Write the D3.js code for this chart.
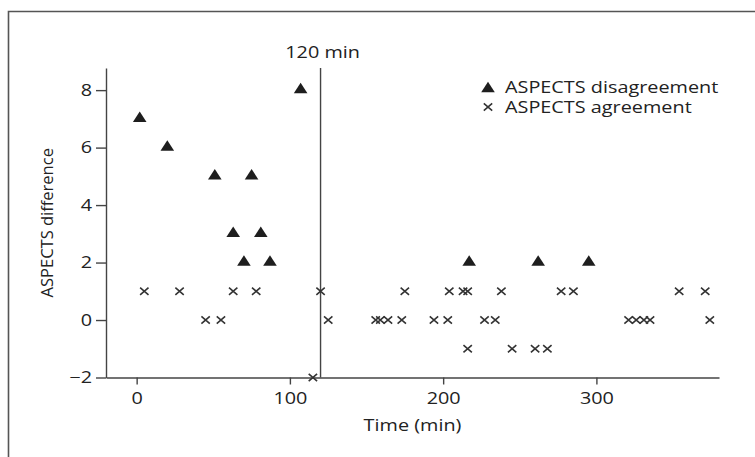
<!DOCTYPE html>
<html>
<head>
<meta charset="utf-8">
<script src="https://cdn.jsdelivr.net/npm/d3@7"></script>
<style>
  html, body { margin: 0; padding: 0; background: #fff; }
  svg { display: block; }
  text { font-family: "Open Sans", "Noto Sans", sans-serif; fill: #222; }
</style>
</head>
<body>
<svg id="chart" width="755" height="457"></svg>
<script>
// ASPECTS disagreement (time in minutes, ASPECTS difference)
const disagreeTime = [2, 20, 51, 75, 63, 81, 70, 87, 107, 217, 262, 295];
const disagreeDiff = [7, 6, 5, 5, 3, 3, 2, 2, 8, 2, 2, 2];

// ASPECTS agreement
const agreeTime = [5, 28, 63, 78, 120, 175, 204, 213, 216, 238, 277, 285, 354, 371,
                   45, 55, 125, 156, 159, 164, 173, 194, 203, 227, 234, 321, 326, 331, 335, 374,
                   216, 245, 260, 268,
                   115];
const agreeDiff = [1, 1, 1, 1, 1, 1, 1, 1, 1, 1, 1, 1, 1, 1,
                   0, 0, 0, 0, 0, 0, 0, 0, 0, 0, 0, 0, 0, 0, 0, 0,
                   -1, -1, -1, -1,
                   -2];

const xTicks = [0, 100, 200, 300];
const yTicks = [-2, 0, 2, 4, 6, 8];
const cutoffTime = 120;
const legendLabels = ["ASPECTS disagreement", "ASPECTS agreement"];

const svg = d3.select("#chart");
const axisColor = "#444";
const markColor = "#1e1e1e";
const fontSize = 16;
const stretch = 1.24;   // wide type: glyphs drawn horizontally expanded

// horizontal text with the widened letterforms
function wideText(parent, px, py, str, anchor) {
  return parent.append("text")
    .attr("transform", `translate(${px},${py}) scale(${stretch},1)`)
    .attr("text-anchor", anchor || "start")
    .style("font-size", fontSize + "px")
    .text(str);
}

// outer frame
svg.append("path")
  .attr("d", "M8.5,460 L8.5,11.5 L760,11.5")
  .attr("fill", "none")
  .attr("stroke", "#555")
  .attr("stroke-width", 1.6);

const x = d3.scaleLinear().domain([-20, 380]).range([106, 719]);
const y = d3.scaleLinear().domain([-2, 8.77]).range([377.5, 68]);

// x axis
const gx = svg.append("g").attr("transform", `translate(0,${y(-2)})`)
  .call(d3.axisBottom(x).tickValues(xTicks).tickSize(7).tickSizeOuter(0).tickPadding(6));
// y axis
const gy = svg.append("g").attr("transform", `translate(${x(-20)},0)`)
  .call(d3.axisLeft(y).tickValues(yTicks).tickSize(10).tickSizeOuter(0).tickPadding(4)
    .tickFormat(d => d < 0 ? "\u2212" + Math.abs(d) : d));

[gx, gy].forEach(g => {
  g.select(".domain").attr("stroke", axisColor).attr("stroke-width", 1.4);
  g.selectAll(".tick line").attr("stroke", axisColor).attr("stroke-width", 1.4);
  g.selectAll(".tick text").attr("fill", "#222")
    .style("font-family", '"Open Sans", "Noto Sans", sans-serif')
    .style("font-size", fontSize + "px")
    .each(function () {
      const t = d3.select(this);
      const tx = +t.attr("x") || 0;
      t.attr("x", tx / stretch).attr("transform", `scale(${stretch},1)`);
    });
});
gx.selectAll(".tick text").attr("dy", "0.85em");

// axis titles
wideText(svg, (x.range()[0] + x.range()[1]) / 2, 431, "Time (min)", "middle");
svg.append("text")
  .attr("transform", `translate(53,${(y.range()[0] + y.range()[1]) / 2}) rotate(-90)`)
  .attr("text-anchor", "middle").style("font-size", "16.5px")
  .text("ASPECTS difference");

// 120 min cutoff line
svg.append("line")
  .attr("x1", x(cutoffTime)).attr("x2", x(cutoffTime))
  .attr("y1", y(8.77)).attr("y2", y(-2))
  .attr("stroke", axisColor).attr("stroke-width", 1.4);
wideText(svg, x(cutoffTime) + 2, 58, "120 min", "middle");

// markers
const triPath = "M0,-6.3 L6.8,4.2 L-6.8,4.2 Z";
const crossPath = "M-4.2,-3.6 L4.2,3.6 M-4.2,3.6 L4.2,-3.6";

svg.append("g").selectAll("path")
  .data(agreeTime.map((t, i) => [t, agreeDiff[i]]))
  .join("path")
  .attr("transform", d => `translate(${x(d[0])},${y(d[1])})`)
  .attr("d", crossPath)
  .attr("stroke", "#333").attr("stroke-width", 1.6).attr("fill", "none");

svg.append("g").selectAll("path")
  .data(disagreeTime.map((t, i) => [t, disagreeDiff[i]]))
  .join("path")
  .attr("transform", d => `translate(${x(d[0])},${y(d[1]) - 1})`)
  .attr("d", triPath)
  .attr("fill", markColor);

// legend
const legend = svg.append("g").attr("transform", "translate(488,0)");
legend.append("path").attr("transform", "translate(0,88)").attr("d", triPath).attr("fill", markColor);
legend.append("path").attr("transform", "translate(0,107)").attr("d", crossPath)
  .attr("stroke", "#333").attr("stroke-width", 1.6).attr("fill", "none");
wideText(legend, 17, 93, legendLabels[0]);
wideText(legend, 17, 113, legendLabels[1]);
</script>
</body>
</html>
